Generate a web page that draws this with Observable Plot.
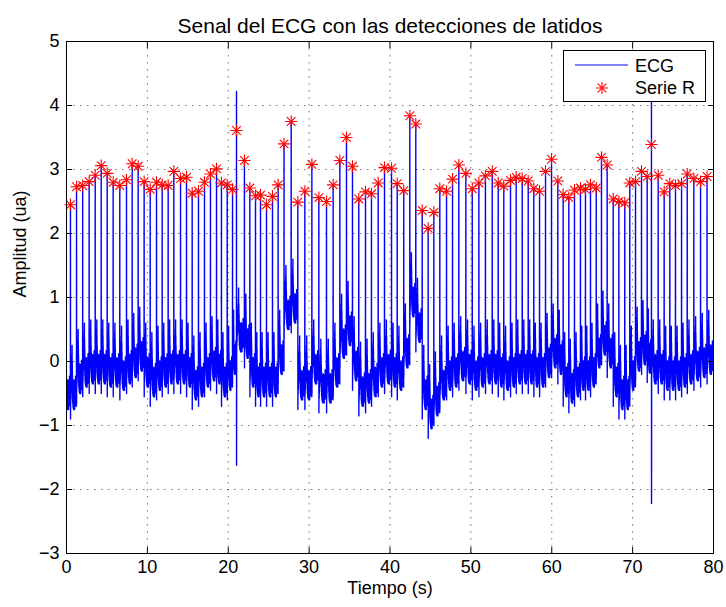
<!DOCTYPE html>
<html>
<head>
<meta charset="utf-8">
<script src="https://cdn.jsdelivr.net/npm/d3@7"></script>
<script src="https://cdn.jsdelivr.net/npm/@observablehq/plot@0.6"></script>
<style>
  html, body { margin: 0; padding: 0; background: #fff; }
  #chart { width: 726px; height: 607px; }
</style>
</head>
<body>
<div id="chart"></div>
<script>
// Detected R peaks: time (s) and amplitude (ua)
const rTimes = [
  0.49, 1.24, 2.0, 2.8, 3.55, 4.29, 5.03, 5.77, 6.59, 7.42,
  8.12, 8.86, 9.6, 10.35, 11.13, 11.83, 12.57, 13.27, 14.1, 14.84,
  15.54, 16.32, 17.06, 17.8, 18.55, 19.16, 19.87, 20.53, 21.02, 22.0,
  22.67, 23.37, 23.99, 24.73, 25.47, 26.17, 26.9, 27.78, 28.6, 29.47,
  30.34, 31.2, 32.15, 32.97, 33.8, 34.62, 35.36, 36.14, 36.97, 37.71,
  38.54, 39.32, 40.19, 40.89, 41.7, 42.45, 43.19, 43.98, 44.72, 45.42,
  46.16, 46.99, 47.73, 48.51, 49.38, 50.17, 50.99, 51.8, 52.64, 53.38,
  54.07, 54.9, 55.6, 56.35, 57.09, 57.78, 58.49, 59.23, 59.97, 60.75,
  61.41, 62.11, 62.81, 63.55, 64.17, 64.79, 65.5, 66.15, 66.85, 67.6,
  68.3, 69.03, 69.65, 70.36, 71.1, 71.8, 72.33, 73.16, 73.9, 74.6,
  75.3, 76.05, 76.75, 77.57, 78.4, 79.2
];
const rAmps = [
  2.45, 2.73, 2.75, 2.81, 2.91, 3.06, 2.94, 2.80, 2.75, 2.84,
  3.09, 3.05, 2.81, 2.69, 2.80, 2.76, 2.75, 2.97, 2.86, 2.88,
  2.63, 2.66, 2.80, 2.93, 3.01, 2.79, 2.76, 2.69, 3.61, 3.14,
  2.71, 2.59, 2.60, 2.45, 2.58, 2.76, 3.40, 3.75, 2.49, 2.66,
  3.08, 2.56, 2.50, 2.76, 3.14, 3.50, 3.05, 2.54, 2.65, 2.62,
  2.79, 3.03, 3.02, 2.78, 2.67, 3.84, 3.71, 2.36, 2.08, 2.33,
  2.70, 2.66, 2.85, 3.07, 2.94, 2.70, 2.79, 2.90, 2.97, 2.79,
  2.74, 2.83, 2.88, 2.86, 2.82, 2.70, 2.66, 2.97, 3.16, 2.82,
  2.61, 2.56, 2.68, 2.71, 2.69, 2.76, 2.71, 3.19, 3.07, 2.54,
  2.50, 2.48, 2.79, 2.81, 2.97, 2.89, 3.39, 2.91, 2.65, 2.78,
  2.75, 2.78, 2.93, 2.86, 2.81, 2.89
];
// Baseline level of the ECG around each beat (wander)
const baseline = [
  -0.45, -0.20, -0.10, -0.05, -0.05, -0.05, -0.10, -0.10, -0.15, -0.05,
  0.05, 0.15, -0.10, -0.25, -0.15, -0.10, -0.05, -0.05, -0.05, -0.10,
  -0.30, -0.25, -0.10, 0.00, -0.05, -0.25, -0.15, 0.10, 0.45, 0.35,
  -0.10, -0.25, -0.25, -0.25, -0.25, 0.10, 0.80, 0.90, -0.30, -0.30,
  -0.05, -0.35, -0.35, -0.10, 0.35, 0.55, 0.00, -0.40, -0.35, -0.25,
  -0.10, -0.05, -0.10, -0.15, 0.20, 1.00, 0.60, -0.45, -0.75, -0.55,
  -0.30, -0.15, -0.10, 0.00, -0.05, -0.15, -0.10, -0.05, -0.05, -0.10,
  -0.15, -0.10, -0.05, -0.05, -0.05, -0.10, -0.10, 0.05, 0.20, 0.10,
  -0.25, -0.35, -0.25, -0.15, -0.15, -0.10, 0.20, 0.40, 0.20, -0.25,
  -0.45, -0.45, -0.15, 0.15, 0.25, 0.12, -0.05, -0.05, -0.15, -0.15,
  -0.15, -0.10, -0.05, 0.00, 0.05, 0.10
];
// Waveform of one cardiac cycle after the R peak, with its noise:
// [fraction of the RR interval, offset from the baseline]
const beatShape = [
  [0.012, -0.45], [0.025, 0.05], [0.04, -0.22], [0.055, 0.10], [0.07, -0.15],
  [0.085, 0.18], [0.10, -0.05], [0.115, 0.22], [0.13, -0.02], [0.145, 0.28],
  [0.16, 0.05], [0.175, 0.35], [0.19, 0.10], [0.205, 0.45], [0.22, 0.15],
  [0.235, 0.55], [0.25, 0.20], [0.265, 0.70], [0.28, 0.18], [0.295, 0.45],
  [0.31, 0.02], [0.325, 0.30], [0.34, -0.12], [0.355, 0.18], [0.37, -0.20],
  [0.39, 0.12], [0.41, -0.25], [0.43, 0.10], [0.45, -0.28], [0.47, 0.06],
  [0.49, -0.22], [0.51, 0.14], [0.53, -0.30], [0.55, 0.08], [0.57, -0.18],
  [0.59, 0.16], [0.61, -0.26], [0.63, 0.04], [0.65, -0.20], [0.67, 0.12],
  [0.69, -0.30], [0.71, 0.06], [0.73, -0.16], [0.75, 0.14], [0.77, -0.24],
  [0.79, 0.10], [0.81, -0.12], [0.83, 0.22], [0.85, -0.02], [0.87, 0.20],
  [0.89, -0.14], [0.91, 0.08], [0.93, -0.22], [0.95, 0.04], [0.97, -0.18],
  [0.985, -0.25]
];
// Artifacts: beats whose trace overshoots and then plunges
const artifactTimes = [21.02, 72.33];
const artifactTops = [4.22, 4.10];
const artifactBottoms = [-1.62, -2.22];

const xTicks = [0, 10, 20, 30, 40, 50, 60, 70, 80];
const yTicks = [-3, -2, -1, 0, 1, 2, 3, 4, 5];

// Assemble the ECG trace beat by beat
const peaks = rTimes.map((t, i) => ({t, v: rAmps[i]}));
const ecg = [];
const n = rTimes.length;
const rr = i => i < n - 1 ? rTimes[i + 1] - rTimes[i] : rTimes[i] - rTimes[i - 1];
{
  const T = rr(0), start = rTimes[0] - T;
  for (const [p, off] of beatShape) {
    const t = start + p * T;
    if (t >= 0) ecg.push({t, v: baseline[0] + off});
  }
}
for (let i = 0; i < n; i++) {
  const T = rr(i), b = baseline[i];
  const a = artifactTimes.indexOf(rTimes[i]);
  ecg.push({t: rTimes[i], v: a >= 0 ? artifactTops[a] : rAmps[i]});
  if (a >= 0) ecg.push({t: rTimes[i] + 0.008, v: artifactBottoms[a]});
  for (const [p, off] of beatShape) {
    ecg.push({t: rTimes[i] + p * T + (a >= 0 && p < 0.02 ? 0.01 : 0), v: b + off});
  }
}
ecg.sort((a, b) => a.t - b.t);

const font = "'Liberation Sans', Arial, Helvetica, sans-serif";
const noText = () => "";
const intFormat = d3.format("~g");

const chart = Plot.plot({
  width: 726,
  height: 607,
  marginLeft: 66,
  marginRight: 13,
  marginTop: 41,
  marginBottom: 54,
  x: {domain: [0, 80]},
  y: {domain: [-3, 5]},
  style: {fontFamily: font, fontSize: "18px", color: "#000", background: "#fff"},
  marks: [
    Plot.gridX(xTicks, {stroke: "#000", strokeOpacity: 0.55, strokeDasharray: "1.5,5.5"}),
    Plot.gridY(yTicks, {stroke: "#000", strokeOpacity: 0.55, strokeDasharray: "1.5,5.5"}),
    Plot.line(ecg, {x: "t", y: "v", stroke: "#0000ff", strokeWidth: 1.4, clip: true}),
    Plot.dot(peaks, {x: "t", y: "v", symbol: "plus", r: 4, stroke: "#ff0000", strokeWidth: 1.1}),
    Plot.dot(peaks, {x: "t", y: "v", symbol: "times", r: 4, stroke: "#ff0000", strokeWidth: 1.1}),
    Plot.frame({stroke: "#000"}),
    Plot.axisX(xTicks, {anchor: "bottom", tickSize: 0, tickPadding: 7, tickFormat: intFormat, label: null}),
    Plot.axisX(xTicks, {anchor: "bottom", tickSize: -6, tickFormat: noText, label: null}),
    Plot.axisX(xTicks, {anchor: "top", tickSize: -6, tickFormat: noText, label: null}),
    Plot.axisY(yTicks, {anchor: "left", tickSize: 0, tickPadding: 7, tickFormat: intFormat, label: null}),
    Plot.axisY(yTicks, {anchor: "left", tickSize: -6, tickFormat: noText, label: null}),
    Plot.axisY(yTicks, {anchor: "right", tickSize: -6, tickFormat: noText, label: null}),
    Plot.text(["Senal del ECG con las detecciones de latidos"], {frameAnchor: "top", dy: -23, text: d => d, fontSize: 21}),
    Plot.text(["Tiempo (s)"], {frameAnchor: "bottom", dy: 40, text: d => d, fontSize: 18}),
    Plot.text(["Amplitud (ua)"], {frameAnchor: "left", dx: -46, rotate: -90, text: d => d, fontSize: 18})
  ]
});

// Legend box in the upper right corner
const svg = d3.select(chart);
const lg = svg.append("g").attr("font-family", font).attr("font-size", 18).attr("text-anchor", "start");
lg.append("rect").attr("x", 563.5).attr("y", 50.5).attr("width", 142).attr("height", 51)
  .attr("fill", "#fff").attr("stroke", "#000");
lg.append("line").attr("x1", 575).attr("x2", 628).attr("y1", 65).attr("y2", 65)
  .attr("stroke", "#0000ff");
for (const type of [d3.symbolPlus, d3.symbolTimes]) {
  lg.append("path").attr("d", d3.symbol(type, 50)()).attr("transform", "translate(602,88)")
    .attr("fill", "none").attr("stroke", "#ff0000").attr("stroke-width", 1.1);
}
lg.append("text").attr("x", 635).attr("y", 65.5).attr("dy", "0.35em").attr("fill", "#000").text("ECG");
lg.append("text").attr("x", 635).attr("y", 88).attr("dy", "0.35em").attr("fill", "#000").text("Serie R");

document.getElementById("chart").appendChild(chart);
</script>
</body>
</html>
